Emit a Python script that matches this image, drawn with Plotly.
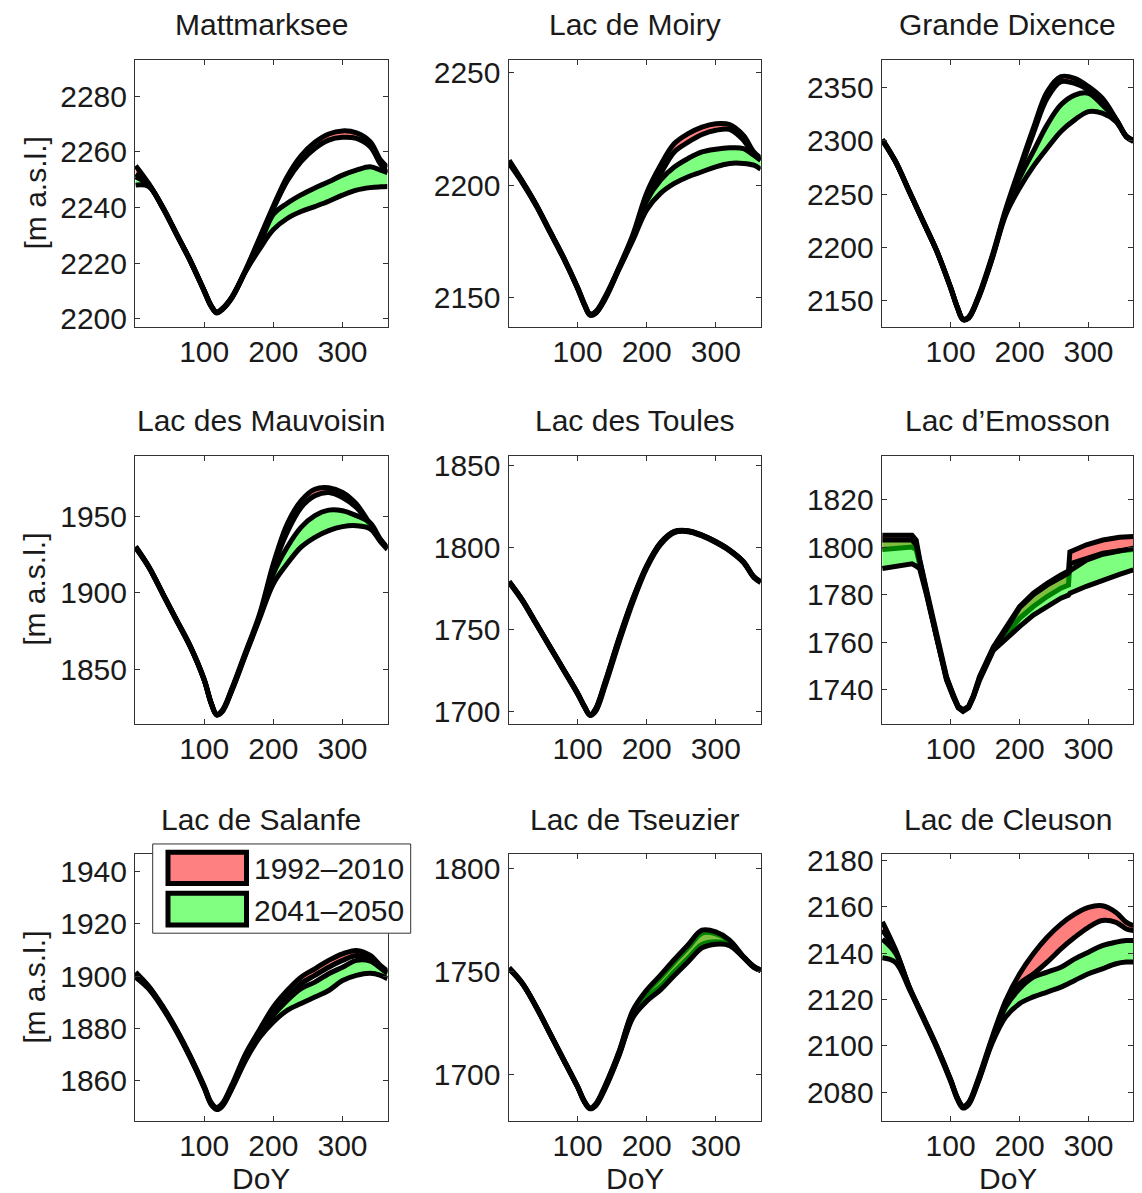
import plotly.graph_objects as go

# ---------------- data ----------------
DOY = [1, 20, 40, 60, 80, 100, 110, 118, 126, 140, 160, 180, 200, 220, 240, 260, 280, 300, 320, 340, 355, 365]

names = ["Mattmarksee", "Lac de Moiry", "Grande Dixence",
         "Lac des Mauvoisin", "Lac des Toules", "Lac d\u2019Emosson",
         "Lac de Salanfe", "Lac de Tseuzier", "Lac de Cleuson"]

legend_labels = ["1992\u20132010", "2041\u20132050"]

# Mattmarksee
matt_red_hi = [2255, 2248.5, 2240.2, 2230.6, 2221, 2210.2, 2204.8, 2202.4, 2203.6, 2207.8, 2217.6, 2229, 2240.5, 2251, 2258.5, 2263.4, 2266.4, 2267.5, 2266.8, 2263.6, 2257, 2254.5]
matt_red_lo = [2252, 2248, 2240, 2230.4, 2220.8, 2210, 2204.6, 2202.2, 2203.4, 2207.6, 2217.4, 2228.5, 2239.5, 2249.5, 2256.5, 2261.2, 2264.2, 2265.2, 2264.8, 2261.8, 2255.5, 2252.5]
matt_grn_hi = [2251, 2248, 2240, 2230.4, 2220.8, 2210, 2204.6, 2202.2, 2203.4, 2207.6, 2217.2, 2226.5, 2237.5, 2241.5, 2244.5, 2247, 2249.2, 2251.6, 2253.4, 2254.6, 2253.4, 2252.5]
matt_grn_lo = [2248, 2247.5, 2239.8, 2230.2, 2220.6, 2209.8, 2204.4, 2202, 2203.2, 2207.4, 2217, 2225, 2232, 2236, 2238.5, 2240.3, 2242.2, 2244.4, 2246.2, 2247.1, 2247.4, 2247.5]

# Lac de Moiry
moiry_red_hi = [2211, 2201.8, 2191.4, 2179.6, 2167.8, 2154.6, 2147.2, 2142.8, 2143.8, 2150.6, 2163.6, 2178, 2196.5, 2208.8, 2218.4, 2222.8, 2225.7, 2227.2, 2226.8, 2222, 2214.7, 2212]
moiry_red_lo = [2210, 2201.4, 2191, 2179.2, 2167.4, 2154.2, 2146.8, 2142.4, 2143.2, 2149.8, 2163.2, 2177, 2194.5, 2205, 2214.7, 2219, 2222.4, 2224.3, 2224.7, 2219.9, 2213.5, 2211]
moiry_grn_hi = [2210.5, 2201.5, 2191.2, 2179.4, 2167.6, 2154.4, 2147, 2142.6, 2143.4, 2150, 2163, 2176.5, 2193, 2202.2, 2208, 2211.8, 2214.7, 2215.9, 2216.5, 2216.2, 2213.2, 2211]
moiry_grn_lo = [2209.5, 2201, 2190.8, 2179, 2167.2, 2154, 2146.6, 2142.2, 2143, 2149.4, 2162.6, 2175.5, 2189, 2196.3, 2200.7, 2203.7, 2205.9, 2208.1, 2209.6, 2209.6, 2208.8, 2207]

# Grande Dixence
dix_red_hi = [2301.5, 2281, 2253, 2224.8, 2196.6, 2162.4, 2143.5, 2132.6, 2134.4, 2153.5, 2191.5, 2236, 2274.4, 2311.9, 2346, 2360.3, 2358.8, 2351, 2340, 2320.5, 2304.5, 2300.5]
dix_red_lo = [2300.5, 2280.4, 2252.3, 2224.2, 2196, 2161.8, 2142.9, 2132, 2133.4, 2152, 2189.5, 2234, 2271, 2307, 2340, 2355.6, 2354, 2347.8, 2336.9, 2319.8, 2304, 2300]
dix_grn_hi = [2301, 2280.6, 2252.5, 2224.4, 2196.3, 2162, 2143.1, 2132.2, 2133.8, 2152.5, 2190, 2233, 2265, 2290, 2315, 2333.8, 2343, 2344.7, 2333.8, 2320, 2304, 2300]
dix_grn_lo = [2300.5, 2280.2, 2252.1, 2224, 2195.9, 2161.6, 2142.7, 2131.8, 2133.2, 2151.5, 2188.5, 2230.5, 2255.6, 2276, 2293, 2308.8, 2319.7, 2327.5, 2326, 2318, 2303.5, 2299.5]

# Lac des Mauvoisin
mauv_red_hi = [1930.5, 1917.3, 1899.9, 1882.5, 1865.1, 1843.3, 1828.1, 1820.5, 1822.9, 1837.3, 1861.5, 1886, 1919.1, 1945.2, 1960.4, 1968, 1969, 1965.9, 1958.3, 1945, 1934.8, 1929.5]
mauv_red_lo = [1930, 1917, 1899.6, 1882.2, 1864.8, 1843, 1827.8, 1820.2, 1822.4, 1836.5, 1860.4, 1884.8, 1916.5, 1939.8, 1956, 1963.7, 1965.9, 1962.6, 1956, 1944.5, 1934.3, 1929]
mauv_grn_hi = [1930, 1917, 1899.6, 1882.2, 1864.8, 1843, 1827.8, 1820.2, 1822.4, 1836.5, 1860.4, 1884.3, 1912.6, 1930, 1943, 1950.7, 1954.3, 1953.9, 1950.7, 1946, 1935, 1929.5]
mauv_grn_lo = [1929.5, 1916.7, 1899.3, 1881.9, 1864.5, 1842.7, 1827.5, 1819.9, 1822, 1835.8, 1859.5, 1883, 1906, 1919.1, 1930, 1936.5, 1940.9, 1943.5, 1944.1, 1942, 1933.5, 1928.5]

# Lac des Toules
toul_red_hi = [1779.3, 1768.2, 1754, 1739.8, 1725.6, 1711.4, 1703.3, 1698.3, 1701.8, 1718.5, 1745, 1769, 1789, 1803, 1809.9, 1810.3, 1807.7, 1803.7, 1798.6, 1791.5, 1782.4, 1779.3]
toul_red_lo = [1779, 1767.9, 1753.7, 1739.5, 1725.3, 1711.1, 1703, 1698, 1701, 1717.2, 1743.6, 1767.9, 1788.2, 1802.4, 1809.5, 1810, 1807.4, 1803.4, 1798.3, 1791.2, 1782.1, 1779]
toul_grn_hi = [1779.2, 1768.1, 1753.9, 1739.7, 1725.5, 1711.3, 1703.2, 1698.2, 1701.5, 1718, 1744.5, 1768.5, 1788.6, 1802.7, 1809.7, 1810.2, 1807.6, 1803.6, 1798.5, 1791.4, 1782.3, 1779.2]
toul_grn_lo = [1778.7, 1767.6, 1753.4, 1739.2, 1725, 1710.8, 1702.7, 1697.7, 1700.2, 1716, 1742.2, 1766.8, 1787.5, 1801.8, 1809.1, 1809.7, 1807.1, 1803.1, 1798, 1790.9, 1781.8, 1778.7]

# Lac d'Emosson (own day grid: flat winter, stepped autumn)
DOY_EMO = [1, 20, 44, 50, 55, 65, 80, 94, 104, 111, 118, 126, 133, 142, 162, 180, 200, 220, 240, 260, 271, 273, 297, 321, 345, 365]
emo_red_hi = [1805, 1805, 1805, 1803, 1795, 1782, 1762, 1745.5, 1737.5, 1733, 1731.5, 1733, 1737.5, 1745.5, 1758, 1766, 1775, 1780.6, 1784.8, 1788.3, 1790, 1798, 1801, 1803, 1804.2, 1804.5]
emo_red_lo = [1799, 1799.5, 1800, 1799, 1793, 1781, 1761, 1744.5, 1737, 1732.5, 1731, 1732.5, 1737, 1744.5, 1757, 1763.5, 1770, 1775, 1779.2, 1782.7, 1784, 1793, 1795.5, 1797.5, 1798.5, 1799]
emo_grn_hi = [1803, 1803, 1803, 1801, 1794, 1781.5, 1761.5, 1745, 1737.2, 1732.7, 1731.2, 1732.7, 1737.2, 1745, 1757.5, 1765, 1774.5, 1780, 1784, 1787.5, 1789, 1790, 1794.5, 1797, 1798.5, 1799.5]
emo_grn_lo = [1791, 1792, 1793, 1792, 1791, 1780, 1760.5, 1744, 1736.8, 1732.3, 1730.8, 1732.3, 1736.8, 1744, 1756.5, 1761.5, 1766.5, 1771.4, 1774.9, 1778.5, 1779.8, 1780.6, 1783.5, 1786.2, 1788.5, 1790.4]

# Lac de Salanfe
sal_red_hi = [1901.5, 1896.1, 1888.5, 1879.6, 1869.4, 1858, 1851.7, 1849.8, 1851.2, 1858.4, 1870.4, 1879.5, 1888.2, 1894.5, 1899.6, 1902.8, 1906, 1908.5, 1909.8, 1907.9, 1904, 1902]
sal_red_lo = [1901, 1895.8, 1888.2, 1879.3, 1869.1, 1857.7, 1851.4, 1849.5, 1850.7, 1857.7, 1869.1, 1878.5, 1886.5, 1892, 1897.1, 1900.3, 1903.4, 1906, 1907.9, 1906.6, 1903.5, 1901.5]
sal_grn_hi = [1900.5, 1895.6, 1888, 1879.1, 1868.9, 1857.5, 1851.2, 1849.3, 1850.5, 1857.3, 1868.6, 1877.5, 1885, 1890.7, 1895.2, 1897.7, 1900.9, 1903.4, 1906, 1905.7, 1903, 1901]
sal_grn_lo = [1899.5, 1895, 1887.7, 1878.8, 1868.6, 1857.2, 1850.9, 1849, 1850.2, 1856.8, 1867.8, 1876.5, 1882.5, 1886.9, 1889.5, 1892, 1894.5, 1898.3, 1900.3, 1901.1, 1900.3, 1899]

# Lac de Tseuzier
tse_red_hi = [1751.7, 1744.3, 1732.9, 1719.9, 1706.9, 1693.9, 1686.6, 1683.4, 1685.1, 1694.2, 1710.6, 1730.4, 1739.8, 1747, 1754.5, 1761.6, 1768.7, 1768.3, 1764.8, 1757.1, 1752.4, 1750.7]
tse_red_lo = [1751.3, 1744.1, 1732.7, 1719.7, 1706.7, 1693.7, 1686.4, 1683.2, 1684.7, 1693.4, 1709.4, 1728.3, 1737, 1742.8, 1749.8, 1756.5, 1763.2, 1764.5, 1763.2, 1757, 1752.1, 1750.5]
tse_grn_hi = [1751.8, 1744.4, 1733, 1720, 1707, 1694, 1686.7, 1683.5, 1685.3, 1694.5, 1711, 1731, 1740.9, 1748.2, 1755.8, 1763, 1770.1, 1769.3, 1765.3, 1757.3, 1752.5, 1750.8]
tse_grn_lo = [1751.2, 1744, 1732.6, 1719.6, 1706.6, 1693.6, 1686.3, 1683.1, 1684.5, 1693, 1709, 1727.5, 1735.5, 1741, 1748, 1754.7, 1761.5, 1763.3, 1762.6, 1756.8, 1752, 1750.4]

# Lac de Cleuson
cle_red_hi = [2153.5, 2141.5, 2125.5, 2112.7, 2099.8, 2085.5, 2077.6, 2074, 2075.6, 2085.8, 2103.5, 2119.6, 2131, 2139.7, 2146.8, 2152.5, 2156.8, 2159.7, 2160.4, 2157.5, 2153.2, 2151.8]
cle_red_lo = [2150, 2141, 2125.3, 2112.5, 2099.6, 2085.3, 2077.4, 2073.8, 2075.3, 2085.3, 2102.5, 2118, 2126.8, 2131, 2136.1, 2141.8, 2146.8, 2151.1, 2154, 2153.2, 2150.4, 2149.7]
cle_grn_hi = [2146, 2140, 2125.1, 2112.3, 2099.4, 2085.1, 2077.2, 2073.6, 2075, 2084.8, 2101.8, 2116.8, 2124.6, 2129.6, 2131.8, 2133.9, 2137.5, 2140.4, 2143.2, 2144.7, 2145.4, 2145.4]
cle_grn_lo = [2138, 2136, 2124.5, 2111.9, 2099, 2084.7, 2076.8, 2073.2, 2074.6, 2084.3, 2101, 2112.5, 2118.2, 2121.1, 2123.2, 2125.3, 2128.2, 2131.1, 2133.2, 2135.4, 2136.1, 2136.1]

x_ticks = [100, 200, 300]
y_ticks = [
    [2200, 2220, 2240, 2260, 2280],
    [2150, 2200, 2250],
    [2150, 2200, 2250, 2300, 2350],
    [1850, 1900, 1950],
    [1700, 1750, 1800, 1850],
    [1740, 1760, 1780, 1800, 1820],
    [1860, 1880, 1900, 1920, 1940],
    [1700, 1750, 1800],
    [2080, 2100, 2120, 2140, 2160, 2180],
]
y_ranges = [
    [2197, 2293], [2137, 2255.5], [2125, 2376],
    [1814, 1990], [1692.5, 1856], [1725.5, 1838.5],
    [1844.5, 1946.5], [1677, 1807], [2067.5, 2182.5],
]

series = [
    (DOY, matt_red_hi, matt_red_lo, matt_grn_hi, matt_grn_lo),
    (DOY, moiry_red_hi, moiry_red_lo, moiry_grn_hi, moiry_grn_lo),
    (DOY, dix_red_hi, dix_red_lo, dix_grn_hi, dix_grn_lo),
    (DOY, mauv_red_hi, mauv_red_lo, mauv_grn_hi, mauv_grn_lo),
    (DOY, toul_red_hi, toul_red_lo, toul_grn_hi, toul_grn_lo),
    (DOY_EMO, emo_red_hi, emo_red_lo, emo_grn_hi, emo_grn_lo),
    (DOY, sal_red_hi, sal_red_lo, sal_grn_hi, sal_grn_lo),
    (DOY, tse_red_hi, tse_red_lo, tse_grn_hi, tse_grn_lo),
    (DOY, cle_red_hi, cle_red_lo, cle_grn_hi, cle_grn_lo),
]

# ---------------- layout geometry (target pixels in the 1142x1193 picture) ----------------
W = 1142
H = 1215
V_SCALE = 0.985      # observed vertical mapping of the page photograph
V_OFF = 10.5
COLS = [(135, 387.5), (508.5, 760.7), (881.7, 1133.3)]
ROWS = [(59.5, 326.7), (455.5, 724), (854.5, 1121.5)]
FONT = "Liberation Sans, Arial, Helvetica, sans-serif"
FS = 30
TXT = "#1a1a1a"
RED_FILL = "rgba(255,0,0,0.5)"
GRN_FILL = "rgba(0,255,0,0.5)"
EDGE = dict(width=5, color="black")


def px(x):
    return x / W


def py(y):
    return 1 - ((y - V_OFF) / V_SCALE) / H


fig = go.Figure()
layout = dict(
    width=W, height=H, margin=dict(l=0, r=0, t=0, b=0),
    paper_bgcolor="white", plot_bgcolor="white", showlegend=False,
    font=dict(family=FONT, size=FS, color=TXT),
)
annotations = []
shapes = []

for i in range(9):
    r, c = divmod(i, 3)
    k = "" if i == 0 else str(i + 1)
    xa, ya = "x" + k, "y" + k
    x, rh, rl, gh, gl = series[i]
    shape = "linear" if i == 5 else "spline"
    # red band (fill + black edges), then the translucent green band on top
    fig.add_trace(go.Scatter(x=x, y=rl, mode="lines", line=dict(shape=shape, **EDGE),
                             xaxis=xa, yaxis=ya, hoverinfo="skip"))
    fig.add_trace(go.Scatter(x=x, y=rh, mode="lines", line=dict(shape=shape, **EDGE),
                             fill="tonexty", fillcolor=RED_FILL, xaxis=xa, yaxis=ya,
                             name=legend_labels[0]))
    fig.add_trace(go.Scatter(x=x, y=gl, mode="lines", line=dict(shape=shape, **EDGE),
                             xaxis=xa, yaxis=ya, hoverinfo="skip"))
    fig.add_trace(go.Scatter(x=x, y=gh, mode="lines", line=dict(shape=shape, **EDGE),
                             fill="tonexty", fillcolor=GRN_FILL, xaxis=xa, yaxis=ya,
                             name=legend_labels[1]))

    x0, x1 = COLS[c]
    y0, y1 = ROWS[r]
    axis_common = dict(showline=True, linecolor="#333", linewidth=1, mirror="ticks",
                       ticks="inside", ticklen=5, tickcolor="#333", showgrid=False,
                       zeroline=False, tickfont=dict(family=FONT, size=FS, color=TXT))
    layout["xaxis" + k] = dict(domain=[px(x0), px(x1)], range=[0, 365], tickvals=x_ticks,
                               anchor=ya, ticklabelstandoff=-2, **axis_common)
    layout["yaxis" + k] = dict(domain=[py(y1), py(y0)], range=y_ranges[i], tickvals=y_ticks[i],
                               anchor=xa, ticklabelstandoff=1, **axis_common)
    annotations.append(dict(text=names[i], x=px((x0 + x1) / 2), y=py(y0 - 35),
                            xref="paper", yref="paper", showarrow=False,
                            xanchor="center", yanchor="middle",
                            font=dict(family=FONT, size=FS, color=TXT)))
    if c == 0:
        annotations.append(dict(text="[m a.s.l.]", x=px(35), y=py((y0 + y1) / 2),
                                xref="paper", yref="paper", showarrow=False, textangle=-90,
                                xanchor="center", yanchor="middle",
                                font=dict(family=FONT, size=FS, color=TXT)))
    if r == 2:
        annotations.append(dict(text="DoY", x=px((x0 + x1) / 2), y=py(1179),
                                xref="paper", yref="paper", showarrow=False,
                                xanchor="center", yanchor="middle",
                                font=dict(family=FONT, size=FS, color=TXT)))

# legend (drawn in the Salanfe panel)
shapes.append(dict(type="rect", xref="paper", yref="paper",
                   x0=px(152.7), x1=px(410.7), y0=py(933.3), y1=py(844),
                   line=dict(color="#333", width=1), fillcolor="white", layer="above"))
sw = [(850.7, 885, "#FF8080"), (891.7, 926.7, "#80FF80")]
for (t, b, col), lab in zip(sw, legend_labels):
    shapes.append(dict(type="rect", xref="paper", yref="paper",
                       x0=px(168), x1=px(246.5), y0=py(b - 1.5), y1=py(t + 1.5),
                       line=dict(color="black", width=5), fillcolor=col, layer="above"))
    annotations.append(dict(text=lab, x=px(252), y=py((t + b) / 2 + 1),
                            xref="paper", yref="paper", showarrow=False,
                            xanchor="left", yanchor="middle",
                            font=dict(family=FONT, size=FS, color=TXT)))

layout["annotations"] = annotations
layout["shapes"] = shapes
fig.update_layout(**layout)
fig.write_html("out.html")
